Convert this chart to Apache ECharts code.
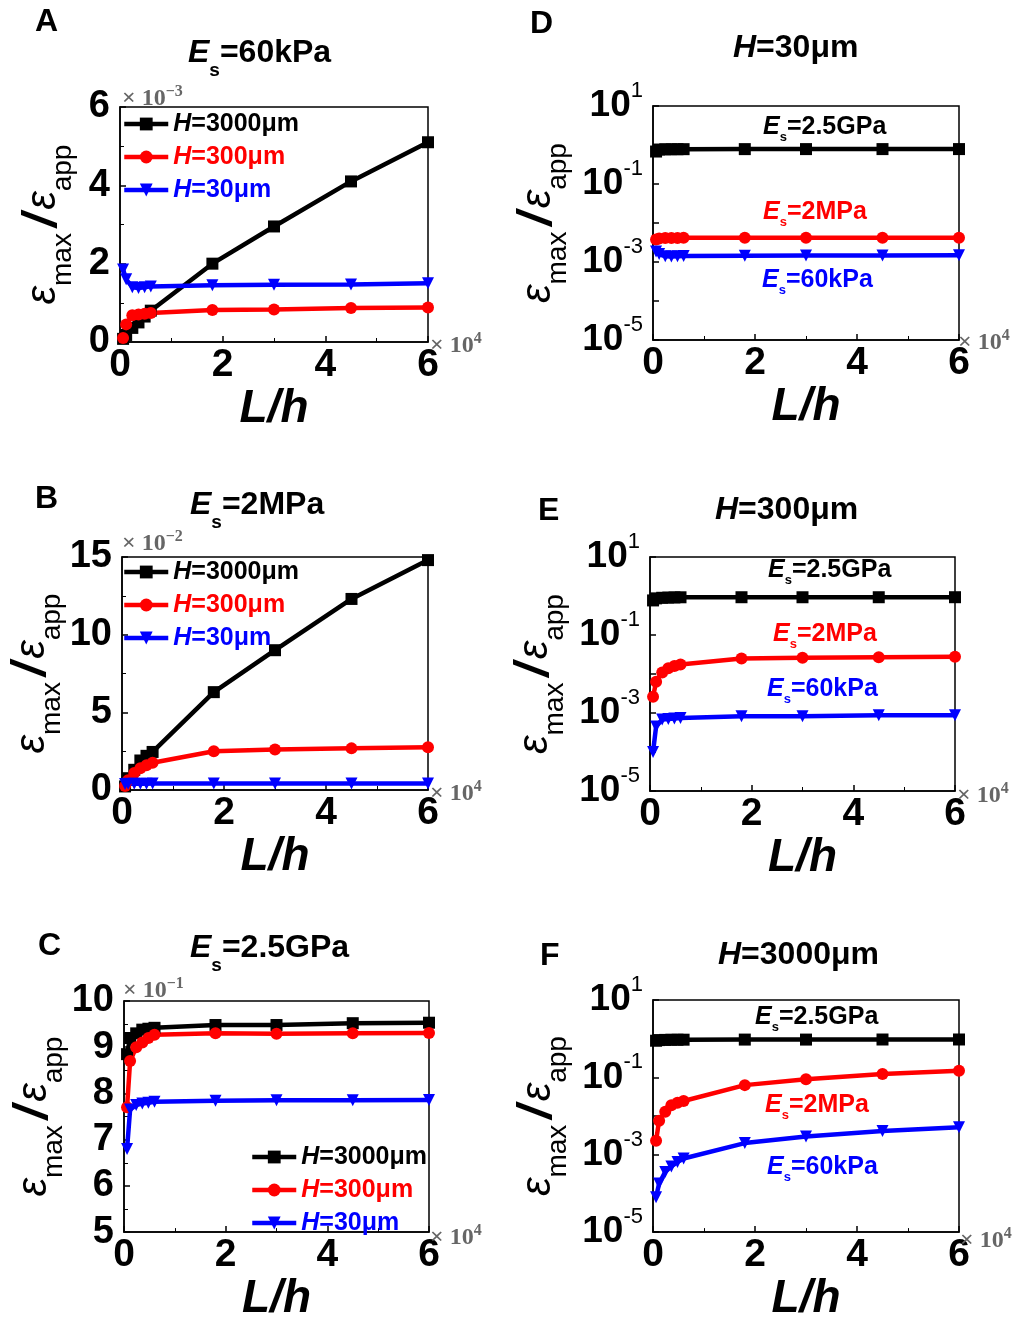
<!DOCTYPE html>
<html><head><meta charset="utf-8">
<script src="https://cdn.jsdelivr.net/npm/echarts@6/dist/echarts.min.js"></script>
<style>html,body{margin:0;padding:0;background:#fff}#c{width:1024px;height:1323px}</style>
</head><body><div id="c"></div>
<script>
// L/h values (x)
const LH = [600, 1200, 2400, 3600, 4800, 6000, 18000, 30000, 45000, 60000];
// eps_max/eps_app, Es = 60 kPa
const es60k_H3000 = [0.00008, 0.00018, 0.00036, 0.0005, 0.00065, 0.0008, 0.0020, 0.00295, 0.0041, 0.0051];
const es60k_H300  = [0.0001, 0.00045, 0.00068, 0.0007, 0.00072, 0.00074, 0.00082, 0.00083, 0.00087, 0.00088];
const es60k_H30   = [0.00185, 0.0016, 0.0014, 0.00138, 0.0014, 0.00142, 0.00145, 0.00146, 0.00147, 0.0015];
// Es = 2 MPa
const es2M_H3000 = [0.0023, 0.0076, 0.013, 0.019, 0.022, 0.0245, 0.063, 0.090, 0.123, 0.148];
const es2M_H300  = [0.0026, 0.0063, 0.011, 0.014, 0.016, 0.0175, 0.025, 0.026, 0.0268, 0.0275];
const es2M_H30   = [0.0038, 0.0040, 0.0041, 0.0041, 0.0041, 0.0042, 0.0042, 0.0042, 0.0042, 0.0042];
// Es = 2.5 GPa
const es25G_H3000 = [0.885, 0.92, 0.93, 0.938, 0.94, 0.942, 0.948, 0.948, 0.952, 0.953];
const es25G_H300  = [0.77, 0.87, 0.90, 0.91, 0.92, 0.927, 0.93, 0.929, 0.93, 0.931];
const es25G_H30   = [0.68, 0.765, 0.775, 0.778, 0.78, 0.782, 0.784, 0.785, 0.785, 0.786];

const hNames = ['H=3000μm', 'H=300μm', 'H=30μm'];
const esNames = ['Es=2.5GPa', 'Es=2MPa', 'Es=60kPa'];

const FF = 'Liberation Sans';
const COLORS = ['#000000', '#ff0000', '#0000ff'];
const SYMBOLS = ['rect', 'circle', 'triangle'];
const SROT = [0, 0, 180];

const panels = [
  {key:'A', grid:{left:120, top:107, width:308, height:235}, log:false, min:0, max:0.006, interval:0.002, scale:1000, nameGap:43,
   data:[es60k_H3000, es60k_H300, es60k_H30], names:hNames},
  {key:'B', grid:{left:122, top:557, width:306, height:233}, log:false, min:0, max:0.15, interval:0.05, scale:100, nameGap:55,
   data:[es2M_H3000, es2M_H300, es2M_H30], names:hNames},
  {key:'C', grid:{left:124, top:1001, width:305, height:234}, log:false, min:0.5, max:1.0, interval:0.1, scale:10, nameGap:52,
   data:[es25G_H3000, es25G_H300, es25G_H30], names:hNames},
  {key:'D', grid:{left:653, top:106, width:306, height:234}, log:true, nameGap:81,
   data:[es25G_H30, es2M_H30, es60k_H30], names:esNames.map(n=>'D '+n)},
  {key:'E', grid:{left:650, top:557, width:305, height:234}, log:true, nameGap:81,
   data:[es25G_H300, es2M_H300, es60k_H300], names:esNames.map(n=>'E '+n)},
  {key:'F', grid:{left:653, top:1000, width:306, height:234}, log:true, nameGap:81,
   data:[es25G_H3000, es2M_H3000, es60k_H3000], names:esNames.map(n=>'F '+n)}
];

const yNameRich = {
  e:{fontSize:42, fontStyle:'italic', fontFamily:FF, color:'#000', lineHeight:68},
  s:{fontSize:28, fontFamily:FF, color:'#000', lineHeight:27, verticalAlign:'bottom'},
  sl:{fontSize:48, fontStyle:'italic', fontWeight:'bold', fontFamily:FF, color:'#000', lineHeight:68, padding:[0,4,0,6]}
};
const yName = '{e|ε}{s|max}{sl|/}{e|ε}{s|app}';

const grids = [], xAxes = [], yAxes = [], series = [];
panels.forEach((p, i) => {
  grids.push(Object.assign({show:true, borderColor:'#000', borderWidth:1.5, backgroundColor:'transparent'}, p.grid));
  xAxes.push({
    gridIndex:i, type:'value', min:0, max:60000, interval:20000,
    axisLine:{show:true, onZero:false, lineStyle:{color:'#000', width:1.5}},
    axisTick:{show:true, inside:true, length:6, lineStyle:{color:'#000', width:1.5}},
    minorTick:{show:true, splitNumber:2, length:4, lineStyle:{color:'#000', width:1}},
    splitLine:{show:false},
    axisLabel:{formatter:v => String(Math.round(v/10000)), fontSize:39, fontWeight:'bold', color:'#000', margin:4, fontFamily:FF},
    name:'L/h', nameLocation:'middle', nameGap:36,
    nameTextStyle:{fontSize:46, fontWeight:'bold', fontStyle:'italic', color:'#000', fontFamily:FF}
  });
  const y = {
    gridIndex:i,
    axisLine:{show:true, onZero:false, lineStyle:{color:'#000', width:1.5}},
    axisTick:{show:true, inside:true, length:6, lineStyle:{color:'#000', width:1.5}},
    splitLine:{show:false},
    name:yName, nameLocation:'middle', nameRotate:90, nameGap:p.nameGap,
    nameTextStyle:{rich:yNameRich, color:'#000'}
  };
  if (p.log) {
    Object.assign(y, {type:'log', logBase:10, min:1e-5, max:10,
      axisLabel:{margin:10, color:'#000', fontFamily:FF,
        formatter:v => { const e = Math.round(Math.log10(v)); return (e % 2 !== 0) ? '{b|10}{p|' + e + '}' : ''; },
        rich:{b:{fontSize:37, fontWeight:'bold', fontFamily:FF, color:'#000', lineHeight:52},
              p:{fontSize:22, fontFamily:FF, color:'#000', verticalAlign:'top', lineHeight:18}}}});
  } else {
    Object.assign(y, {type:'value', min:p.min, max:p.max, interval:p.interval,
      minorTick:{show:true, splitNumber:2, length:4, lineStyle:{color:'#000', width:1}},
      axisLabel:{formatter:v => String(Math.round(v*p.scale)), fontSize:38, fontWeight:'bold', color:'#000', margin:10, fontFamily:FF}});
  }
  yAxes.push(y);
  p.data.forEach((arr, k) => {
    series.push({
      type:'line', name:p.names[k], xAxisIndex:i, yAxisIndex:i,
      data:LH.map((x, j) => [x, arr[j]]),
      symbol:SYMBOLS[k], symbolRotate:SROT[k], symbolSize:12, showAllSymbol:true, clip:false,
      lineStyle:{color:COLORS[k], width:4.5}, itemStyle:{color:COLORS[k]},
      emphasis:{disabled:true}, animation:false
    });
  });
});

function legendFor(left, top) {
  return {
    left, top, orient:'vertical', itemWidth:44, itemHeight:16, itemGap:7, padding:0,
    selectedMode:false,
    lineStyle:{width:4.5},
    formatter:n => n.replace('H=', '{i|H}='),
    data:hNames.map((n, k) => ({name:n, textStyle:{color:COLORS[k],
      rich:{i:{color:COLORS[k], fontStyle:'italic', fontWeight:'bold', fontSize:25, fontFamily:FF, lineHeight:26}}}})),
    textStyle:{fontSize:25, fontWeight:'bold', fontFamily:FF, lineHeight:26}
  };
}

function bigRich(c) {
  return {
    e:{fontSize:32, fontWeight:'bold', fontStyle:'italic', fontFamily:FF, color:c, lineHeight:54},
    s:{fontSize:19, fontFamily:FF, color:c, lineHeight:18, verticalAlign:'bottom'},
    t:{fontSize:32, fontWeight:'bold', fontFamily:FF, color:c, lineHeight:54}
  };
}
function smallRich(c) {
  return {
    e:{fontSize:25, fontWeight:'bold', fontStyle:'italic', fontFamily:FF, color:c, lineHeight:34},
    s:{fontSize:13, fontFamily:FF, color:c, lineHeight:12, verticalAlign:'bottom'},
    t:{fontSize:25, fontWeight:'bold', fontFamily:FF, color:c, lineHeight:34}
  };
}
const multRich = {
  m:{fontSize:24, fontFamily:'Liberation Serif', color:'#666', lineHeight:30},
  p:{fontSize:16, fontFamily:'Liberation Serif', color:'#666', verticalAlign:'top', lineHeight:12}
};
function T(text, left, top, rich) {
  return {text, left, top, padding:0, textStyle:{fontFamily:FF, color:'#000', rich}};
}
function L(letter, left, top) {
  return {text:letter, left, top, padding:0, textStyle:{fontFamily:FF, fontSize:32, fontWeight:'bold', color:'#000', lineHeight:32}};
}

const titles = [
  L('A', 35, 6), L('D', 530, 8), L('B', 35, 483), L('E', 538, 495), L('C', 38, 930), L('F', 540, 940),
  T('{e|E}{s|s}{t|=60kPa}', 188, 26, bigRich('#000')),
  T('{e|H}{t|=30μm}', 733, 21, bigRich('#000')),
  T('{e|E}{s|s}{t|=2MPa}', 190, 478, bigRich('#000')),
  T('{e|H}{t|=300μm}', 715, 483, bigRich('#000')),
  T('{e|E}{s|s}{t|=2.5GPa}', 190, 921, bigRich('#000')),
  T('{e|H}{t|=3000μm}', 718, 928, bigRich('#000')),
  // inline labels
  T('{e|E}{s|s}{t|=2.5GPa}', 763, 110, smallRich('#000')),
  T('{e|E}{s|s}{t|=2MPa}', 763, 195, smallRich('#ff0000')),
  T('{e|E}{s|s}{t|=60kPa}', 762, 263, smallRich('#0000ff')),
  T('{e|E}{s|s}{t|=2.5GPa}', 768, 553, smallRich('#000')),
  T('{e|E}{s|s}{t|=2MPa}', 773, 617, smallRich('#ff0000')),
  T('{e|E}{s|s}{t|=60kPa}', 767, 672, smallRich('#0000ff')),
  T('{e|E}{s|s}{t|=2.5GPa}', 755, 1000, smallRich('#000')),
  T('{e|E}{s|s}{t|=2MPa}', 765, 1088, smallRich('#ff0000')),
  T('{e|E}{s|s}{t|=60kPa}', 767, 1150, smallRich('#0000ff')),
  // multipliers
  T('{m|× 10}{p|−3}', 122, 84, multRich),
  T('{m|× 10}{p|−2}', 122, 529, multRich),
  T('{m|× 10}{p|−1}', 123, 976, multRich),
  T('{m|× 10}{p|4}', 430, 331, multRich),
  T('{m|× 10}{p|4}', 430, 779, multRich),
  T('{m|× 10}{p|4}', 430, 1223, multRich),
  T('{m|× 10}{p|4}', 958, 328, multRich),
  T('{m|× 10}{p|4}', 957, 781, multRich),
  T('{m|× 10}{p|4}', 960, 1226, multRich)
];

const chart = echarts.init(document.getElementById('c'), null, {renderer:'canvas'});
chart.setOption({
  animation:false,
  backgroundColor:'#fff',
  title:titles,
  legend:[legendFor(122, 111), legendFor(122, 559), legendFor(250, 1144)],
  grid:grids, xAxis:xAxes, yAxis:yAxes, series
});
</script></body></html>
